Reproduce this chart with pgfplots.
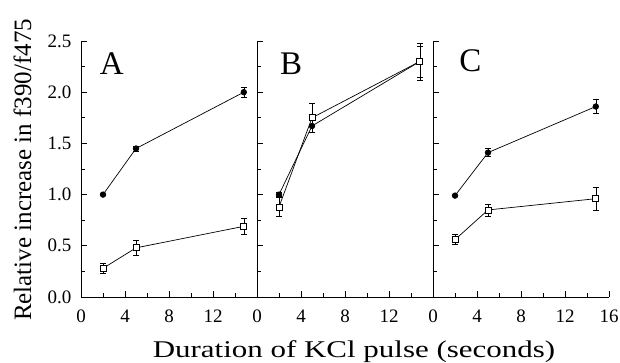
\documentclass[border=0pt]{standalone}
\usepackage{fontspec}
\setmainfont{Liberation Serif}
\usepackage{pgfplots}
\pgfplotsset{compat=1.18}
\pgfplotsset{
  panel/.style={
    scale only axis, width=176pt, height=256pt,
    anchor=south west,
    xmin=0, xmax=16, ymin=0, ymax=2.5,
    axis lines*=left,
    tick align=inside,
    major tick length=6pt, minor tick length=3.5pt,
    xtick={0,4,8,12}, minor xtick={2,6,10,14},
    ytick={0,0.5,...,2.5}, minor ytick={0.25,0.75,...,2.25},
    tick style={black, line width=0.6pt},
    axis line style={black, line width=0.8pt},
    ticklabel style={font=\fontsize{19}{19}\selectfont},
    xticklabel style={yshift=-9pt},
    /pgf/number format/assume math mode=true,
    yticklabel style={xshift=-6pt, /pgf/number format/.cd, fixed, fixed zerofill, precision=1},
    clip=false,
  },
  filled/.style={black, line width=0.7pt, mark=*, mark size=2.8pt,
    error bars/.cd, y dir=both, y explicit,
    error bar style={line width=0.6pt}, error mark=-, error mark options={rotate=90, mark size=3pt, line width=0.6pt}},
  open/.style={black, line width=0.7pt, mark=square*, mark size=3pt, mark options={fill=white},
    error bars/.cd, y dir=both, y explicit,
    error bar style={line width=0.6pt}, error mark=-, error mark options={rotate=90, mark size=3pt, line width=0.6pt}},
}
\pgfplotstableread{
x y e
2 1.00 0.00
5 1.45 0.025
14.8 2.00 0.05
}\Afill
\pgfplotstableread{
x y e
2 0.28 0.05
5 0.48 0.07
14.8 0.69 0.08
}\Aopen
\pgfplotstableread{
x y e
2 1.00 0.02
5 1.67 0.06
14.8 2.30 0.15
}\Bfill
\pgfplotstableread{
x y e
2 0.88 0.09
5 1.75 0.14
14.8 2.30 0.18
}\Bopen
\pgfplotstableread{
x y e
2 0.99 0.00
5 1.41 0.04
14.8 1.86 0.07
}\Cfill
\pgfplotstableread{
x y e
2 0.56 0.05
5 0.85 0.06
14.8 0.96 0.11
}\Copen
\begin{document}
\begin{tikzpicture}[x=1pt,y=1pt]
\begin{axis}[panel, at={(81pt,66pt)}]
\addplot[filled] table[x=x,y=y,y error=e]{\Afill};
\addplot[open] table[x=x,y=y,y error=e]{\Aopen};
\node[font=\fontsize{33}{33}\selectfont] at (axis cs:2.8,2.28) {A};
\end{axis}
\begin{axis}[panel, at={(257pt,66pt)}, yticklabels={}]
\addplot[filled] table[x=x,y=y,y error=e]{\Bfill};
\addplot[open] table[x=x,y=y,y error=e]{\Bopen};
\node[font=\fontsize{33}{33}\selectfont] at (axis cs:3.1,2.28) {B};
\end{axis}
\begin{axis}[panel, at={(433pt,66pt)}, yticklabels={}, xtick={0,4,8,12,16}]
\addplot[filled] table[x=x,y=y,y error=e]{\Cfill};
\addplot[open] table[x=x,y=y,y error=e]{\Copen};
\node[font=\fontsize{33}{33}\selectfont] at (axis cs:3.4,2.31) {C};
\end{axis}
\node[anchor=base, font=\fontsize{24}{24}\selectfont] at (354pt,5pt) {\scalebox{1.29}[1]{Duration of KCl pulse (seconds)}};
\node[anchor=base, rotate=90, font=\fontsize{25}{25}\selectfont] at (31pt,193pt) {Relative increase in f390/f475};
\pgfresetboundingbox
\useasboundingbox (0pt,0pt) rectangle (620pt,363pt);
\end{tikzpicture}
\end{document}
